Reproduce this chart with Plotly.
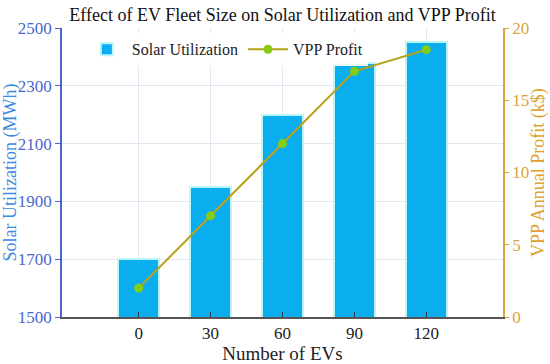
import plotly.graph_objects as go

ev_counts = [0, 30, 60, 90, 120]
tick_labels = ["0", "30", "60", "90", "120"]
solar_util = [1700, 1950, 2200, 2380, 2450]
vpp_profit = [2.0, 7.0, 12.0, 17.0, 18.5]

FONT = "Liberation Serif, Times New Roman, serif"
BLUE_TXT = "#4A66D0"
GOLD = "#D9A441"
GRID = "#E3E6F2"

fig = go.Figure()
fig.add_trace(go.Bar(
    x=ev_counts, y=solar_util, name="Solar Utilization",
    width=17, marker=dict(color="#0AAEEE", line=dict(color="#B8F6F8", width=2)),
    yaxis="y",
))
fig.add_trace(go.Scatter(
    x=ev_counts, y=vpp_profit, name="VPP Profit", mode="lines+markers",
    line=dict(color="#B8A21A", width=2),
    marker=dict(color="#86CC12", size=9),
    yaxis="y2",
))

fig.update_layout(
    width=550, height=364,
    margin=dict(l=62, r=47, t=28, b=47, autoexpand=False),
    paper_bgcolor="white", plot_bgcolor="white",
    font=dict(family=FONT, size=16, color="#222"),
    title=dict(text="Effect of EV Fleet Size on Solar Utilization and VPP Profit",
               x=0.5, xref="paper", xanchor="center", y=0.978, yanchor="top",
               font=dict(family=FONT, size=18, color="#111")),
    showlegend=True,
    legend=dict(orientation="h", x=0.045, y=0.985, xanchor="left", yanchor="top",
                bgcolor="rgba(255,255,255,0.9)", font=dict(family=FONT, size=16, color="#222"),
                itemwidth=40),
    bargap=0,
    xaxis=dict(
        range=[-32, 152], tickvals=ev_counts, ticktext=tick_labels,
        showgrid=True, gridcolor=GRID, zeroline=False, automargin=False,
        showline=True, linecolor="#555", linewidth=1.5,
        ticks="inside", ticklen=5, tickcolor="#333",
        tickfont=dict(family=FONT, size=17, color="#222"),
        title=dict(text="Number of EVs", font=dict(family=FONT, size=19, color="#222"), standoff=0),
    ),
    yaxis=dict(
        range=[1500, 2500], tickvals=[1500, 1700, 1900, 2100, 2300, 2500],
        showgrid=True, gridcolor=GRID, zeroline=False, automargin=False,
        showline=True, linecolor="#4A66D0", linewidth=1.5,
        ticks="outside", ticklen=5, tickcolor="#4A66D0",
        tickfont=dict(family=FONT, size=17, color=BLUE_TXT),
        title=dict(text="Solar Utilization (MWh)", font=dict(family=FONT, size=18, color="#3D8BE0"), standoff=2),
    ),
    yaxis2=dict(
        range=[0, 20], tickvals=[0, 5, 10, 15, 20], overlaying="y", side="right",
        showgrid=False, zeroline=False, automargin=False,
        showline=True, linecolor=GOLD, linewidth=1.5,
        ticks="outside", ticklen=4, tickcolor=GOLD,
        tickfont=dict(family=FONT, size=17, color=GOLD),
    ),
    annotations=[dict(
        text="VPP Annual Profit (k$)", xref="paper", yref="paper", x=1.0, y=0.5,
        xanchor="left", yanchor="middle", xshift=23, textangle=-90, showarrow=False,
        font=dict(family=FONT, size=18, color="#E0A030"),
    )],
)

fig.write_html("out.html", config={"displayModeBar": False},
               post_script="document.body.style.margin='0';document.body.style.padding='0';")
